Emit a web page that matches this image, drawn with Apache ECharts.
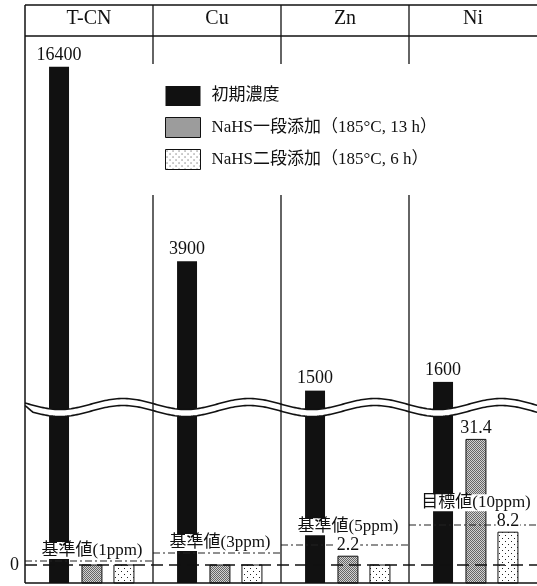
<!DOCTYPE html>
<html>
<head>
<meta charset="utf-8">
<script src="https://cdn.jsdelivr.net/npm/echarts@6/dist/echarts.min.js"></script>
<style>html,body{margin:0;padding:0;background:#fff}#chart{width:537px;height:586px}</style>
</head>
<body>
<div id="chart"></div>
<script>
// ---------- data ----------
const categories = ['T-CN', 'Cu', 'Zn', 'Ni'];
const initialConcentration = [16400, 3900, 1500, 1600];   // 初期濃度 (ppm)
const nahsOneStage = [0, 0, 2.2, 31.4];                   // NaHS一段添加 (ppm)
const nahsTwoStage = [0, 0, 0, 8.2];                      // NaHS二段添加 (ppm)
const limitValues = [1, 3, 5, 10];                        // 基準値 / 目標値 (ppm)
const limitLabels = ['基準値(1ppm)', '基準値(3ppm)', '基準値(5ppm)', '目標値(10ppm)'];
const seriesNames = ['初期濃度', 'NaHS一段添加（185°C, 13 h）', 'NaHS二段添加（185°C, 6 h）'];

// ---------- layout ----------
const FONT = "'Liberation Serif', 'Noto Sans CJK JP', serif";
const FRAME_LEFT = 25, FRAME_RIGHT = 537, FRAME_TOP = 5, HEADER_Y = 36, FRAME_BOTTOM = 583;
const UPPER_BOTTOM = 410, LOWER_TOP = 400;
const BAND = (FRAME_RIGHT - FRAME_LEFT) / categories.length;
const BAR_OFFSETS = [-0.234, 0.023, 0.273];
const BAR_WIDTH = 0.156;
const VALUE_FONT = 18, REF_FONT = 17;

function makeGrayPattern() {
  const c = document.createElement('canvas'); c.width = 2; c.height = 2;
  const g = c.getContext('2d');
  g.fillStyle = '#d2d2d2'; g.fillRect(0, 0, 2, 2);
  g.fillStyle = '#666666'; g.fillRect(0, 0, 1, 1); g.fillRect(1, 1, 1, 1);
  return c;
}
function makeDotPattern() {
  const c = document.createElement('canvas'); c.width = 6; c.height = 6;
  const g = c.getContext('2d');
  g.fillStyle = '#ffffff'; g.fillRect(0, 0, 6, 6);
  g.fillStyle = '#222222'; g.fillRect(1, 1, 1, 1); g.fillRect(4, 4, 1, 1);
  return c;
}
const fills = [
  '#111111',
  { image: makeGrayPattern(), repeat: 'repeat' },
  { image: makeDotPattern(), repeat: 'repeat' }
];

function barRenderer(k, withLabel) {
  return function (params, api) {
    const i = api.value(0), v = api.value(1);
    const bw = api.size([1, 0])[0];
    const cs = params.coordSys;
    const p = api.coord([i, v]);
    const cx = p[0] + BAR_OFFSETS[k] * bw;
    const w = BAR_WIDTH * bw;
    const yBase = cs.y + cs.height;
    const rect = echarts.graphic.clipRectByRect(
      { x: cx - w / 2, y: p[1], width: w, height: yBase - p[1] },
      { x: cs.x, y: cs.y, width: cs.width, height: cs.height });
    const children = [];
    if (rect) {
      children.push({
        type: 'rect', shape: rect,
        style: { fill: fills[k], stroke: k === 0 ? null : '#111', lineWidth: k === 0 ? 0 : 1 }
      });
    }
    if (withLabel && v > 0) {
      children.push({
        type: 'text',
        style: { text: String(v), x: cx, y: p[1] - 3, align: 'center', verticalAlign: 'bottom',
                 textAlign: 'center', textVerticalAlign: 'bottom',
                 fontSize: VALUE_FONT, fontFamily: FONT, fill: '#111' }
      });
    }
    return { type: 'group', children: children };
  };
}

// value labels of the lower bars (white background)
const lowerValueLabels = [];
[nahsOneStage, nahsTwoStage].forEach(function (arr, s) {
  arr.forEach(function (v, i) { if (v > 0) lowerValueLabels.push([i, v, s + 1]); });
});

function valueLabelRenderer(params, api) {
  const i = api.value(0), v = api.value(1), k = api.value(2);
  const bw = api.size([1, 0])[0];
  const p = api.coord([i, v]);
  return {
    type: 'text',
    style: { text: String(v), x: p[0] + BAR_OFFSETS[k] * bw, y: p[1] - 2,
             align: 'center', verticalAlign: 'bottom', textAlign: 'center', textVerticalAlign: 'bottom',
             fontSize: VALUE_FONT, fontFamily: FONT, fill: '#111',
             backgroundColor: '#fff', padding: [0, 1] }
  };
}

function limitRenderer(params, api) {
  const i = api.value(0), v = api.value(1);
  const bw = api.size([1, 0])[0];
  const p = api.coord([i, v]);
  let bottom = p[1] - 2;
  // lift the label above any bar value label in the same panel
  [nahsOneStage[i], nahsTwoStage[i]].forEach(function (val) {
    if (val > 0) {
      const top = api.coord([i, val])[1];
      const lb = top - 2, lt = lb - VALUE_FONT;
      if (lb > bottom - REF_FONT && lt < bottom) bottom = lt - 1;
    }
  });
  return {
    type: 'group',
    children: [
      { type: 'line', shape: { x1: p[0] - bw / 2, y1: p[1], x2: p[0] + bw / 2, y2: p[1] },
        style: { stroke: '#222', lineWidth: 1.2, lineDash: [7, 3, 2, 3] } },
      { type: 'text',
        style: { text: limitLabels[i], x: p[0] + 3, y: bottom, align: 'center', verticalAlign: 'bottom',
                 textAlign: 'center', textVerticalAlign: 'bottom',
                 fontSize: REF_FONT, fontFamily: FONT, fill: '#111', backgroundColor: '#fff', padding: [0, 1] } }
    ]
  };
}

// ---------- decoration (frame, wave break) ----------
const graphics = [];
function hLine(x1, x2, y, w) {
  graphics.push({ type: 'line', z: 6, silent: true, shape: { x1: x1, y1: y, x2: x2, y2: y }, style: { stroke: '#111', lineWidth: w } });
}
function vLine(x, y1, y2, w) {
  graphics.push({ type: 'line', z: 6, silent: true, shape: { x1: x, y1: y1, x2: x, y2: y2 }, style: { stroke: '#111', lineWidth: w } });
}
const WAVE_MID = 404, WAVE_AMP = 5.5, WAVE_PERIOD = 126, WAVE_PHASE = 60, WAVE_GAP = 7;
const topPts = [], botPts = [];
for (let x = FRAME_LEFT; x <= FRAME_RIGHT + 2; x += 2) {
  const yt = WAVE_MID + WAVE_AMP * Math.cos(2 * Math.PI * (x - WAVE_PHASE) / WAVE_PERIOD);
  const gap = WAVE_GAP * Math.min(1, (x - FRAME_LEFT) / 12 + 0.35);
  topPts.push([x, yt]); botPts.push([x, yt + gap]);
}
graphics.push({ type: 'polygon', z: 5, silent: true, shape: { points: topPts.concat(botPts.slice().reverse()) }, style: { fill: '#fff' } });
graphics.push({ type: 'polyline', z: 6, silent: true, shape: { points: topPts }, style: { stroke: '#111', lineWidth: 1.6, fill: null } });
graphics.push({ type: 'polyline', z: 6, silent: true, shape: { points: botPts }, style: { stroke: '#111', lineWidth: 1.6, fill: null } });
hLine(FRAME_LEFT, FRAME_RIGHT, FRAME_TOP, 1.5);
hLine(FRAME_LEFT, FRAME_RIGHT, HEADER_Y, 1.5);
hLine(FRAME_LEFT, FRAME_RIGHT, FRAME_BOTTOM, 1.5);
vLine(FRAME_LEFT, FRAME_TOP, FRAME_BOTTOM, 1.5);
for (let k = 1; k < categories.length; k++) vLine(FRAME_LEFT + k * BAND, FRAME_TOP, FRAME_BOTTOM, 1.3);

// ---------- chart ----------
const chart = echarts.init(document.getElementById('chart'), null, { renderer: 'canvas' });
chart.setOption({
  animation: false,
  backgroundColor: '#fff',
  textStyle: { fontFamily: FONT },
  grid: [
    { left: FRAME_LEFT, width: FRAME_RIGHT - FRAME_LEFT, top: HEADER_Y, height: UPPER_BOTTOM - HEADER_Y, outerBoundsMode: 'none', containLabel: false },
    { left: FRAME_LEFT, width: FRAME_RIGHT - FRAME_LEFT, top: LOWER_TOP, height: FRAME_BOTTOM - LOWER_TOP, outerBoundsMode: 'none', containLabel: false }
  ],
  xAxis: [
    { gridIndex: 0, type: 'category', data: categories, position: 'top',
      axisLine: { show: false }, axisTick: { show: false }, splitLine: { show: false },
      axisLabel: { show: true, margin: 7, fontSize: 20, fontFamily: FONT, color: '#111' } },
    { gridIndex: 1, type: 'category', data: categories, show: false }
  ],
  yAxis: [
    { gridIndex: 0, type: 'log', logBase: 10, min: 1300, max: 20600, show: false },
    { gridIndex: 1, type: 'value', min: -4.5, max: 41.25, show: false }
  ],
  legend: {
    orient: 'vertical', left: 140, top: 64, padding: [22, 20, 25, 25],
    itemWidth: 35, itemHeight: 20, itemGap: 11, backgroundColor: '#fff', z: 10,
    icon: 'rect',
    textStyle: { fontFamily: FONT, fontSize: 17, color: '#111', padding: [0, 0, 0, 6] },
    data: [
      { name: seriesNames[0], itemStyle: { color: fills[0], borderWidth: 0 } },
      { name: seriesNames[1], itemStyle: { color: fills[1], borderColor: '#111', borderWidth: 1 } },
      { name: seriesNames[2], itemStyle: { color: fills[2], borderColor: '#111', borderWidth: 1 } }
    ]
  },
  graphic: { elements: graphics },
  series: [
    { name: seriesNames[0], type: 'custom', xAxisIndex: 0, yAxisIndex: 0, z: 2,
      itemStyle: { color: fills[0] }, encode: { x: 0, y: 1 },
      data: initialConcentration.map(function (v, i) { return [i, v]; }),
      renderItem: barRenderer(0, true) },
    { name: seriesNames[0], type: 'custom', xAxisIndex: 1, yAxisIndex: 1, z: 2,
      itemStyle: { color: fills[0] }, encode: { x: 0, y: 1 },
      data: initialConcentration.map(function (v, i) { return [i, v]; }),
      renderItem: barRenderer(0, false) },
    { name: seriesNames[1], type: 'custom', xAxisIndex: 1, yAxisIndex: 1, z: 2,
      itemStyle: { color: fills[1] }, encode: { x: 0, y: 1 },
      data: nahsOneStage.map(function (v, i) { return [i, v]; }),
      renderItem: barRenderer(1, false) },
    { name: seriesNames[2], type: 'custom', xAxisIndex: 1, yAxisIndex: 1, z: 2,
      itemStyle: { color: fills[2] }, encode: { x: 0, y: 1 },
      data: nahsTwoStage.map(function (v, i) { return [i, v]; }),
      renderItem: barRenderer(2, false) },
    { name: 'limits', type: 'custom', xAxisIndex: 1, yAxisIndex: 1, z: 3,
      encode: { x: 0, y: 1 },
      data: limitValues.map(function (v, i) { return [i, v]; }),
      renderItem: limitRenderer,
      markLine: {
        silent: true, symbol: ['none', 'none'],
        lineStyle: { color: '#111', type: [12, 6], width: 1.5 },
        label: { show: true, position: 'start', formatter: '0', fontSize: 18, fontFamily: FONT, color: '#111', distance: 6 },
        data: [{ yAxis: 0 }]
      } },
    { name: 'valueLabels', type: 'custom', xAxisIndex: 1, yAxisIndex: 1, z: 4,
      encode: { x: 0, y: 1 },
      data: lowerValueLabels,
      renderItem: valueLabelRenderer }
  ]
});
</script>
</body>
</html>
